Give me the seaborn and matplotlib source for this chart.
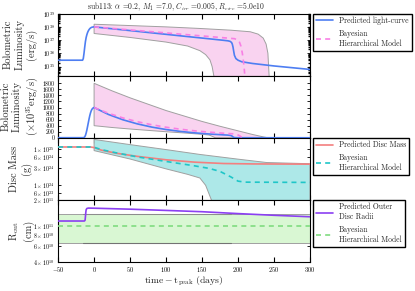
import numpy as np
import matplotlib
matplotlib.use("Agg")
import matplotlib.pyplot as plt
import seaborn as sns
from matplotlib.ticker import FixedLocator, FixedFormatter, NullLocator

# ---------------- data ----------------
# predicted light curve (units of 1e35 erg/s)
t_lc = [-50, -16, -15, -14, -13, -12, -11, -10, -9, -8, -7, -6, -5, -4, -3, -2, -1, 0,
        20, 40, 60, 80, 100, 120, 140, 160, 180, 186, 189, 191, 192, 193, 194, 195,
        197, 200, 205, 220, 250, 300]
lc_35 = [3, 3, 4, 10, 30, 80, 160, 260, 380, 500, 620, 730, 820, 890, 940, 970, 990, 1000,
         770, 595, 460, 354, 273, 210, 162, 125, 96, 88, 80, 66, 50, 30, 14, 7,
         4, 3, 2.3, 1.7, 1.1, 0.6]

# Bayesian hierarchical model median light curve (units of 1e35 erg/s)
t_bhm = [0, 20, 40, 60, 80, 100, 120, 140, 160, 180, 195, 199, 202, 204, 206, 208, 210]
bhm_35 = [1000, 810, 656, 532, 431, 349, 283, 229, 186, 150, 128, 105, 70, 35, 10, 1.5, 0.1]

# BHM band, log panel (log10 erg/s)
t_band1_up = [0, 50, 100, 147, 190, 217, 228, 235, 239, 241.5, 242.5, 243.5]
band1_up = [38.2, 38.1, 38.0, 37.88, 37.75, 37.63, 37.45, 37.15, 36.7, 36.0, 35.0, 34.0]
t_band1_lo = [0, 50, 100, 130, 147, 155, 161, 164, 166, 167.5]
band1_lo = [37.5, 37.2, 36.85, 36.55, 36.2, 35.9, 35.5, 35.0, 34.4, 34.0]

# BHM band, linear panel (1e35 erg/s)
t_band2_up = [0, 25, 50, 75, 100, 125, 150, 175, 200, 220, 235, 242]
band2_up = [1800, 1550, 1320, 1110, 900, 720, 540, 380, 230, 110, 30, 0]
t_band2_lo = [0, 25, 50, 75, 100, 125, 150, 160, 165, 168, 170]
band2_lo = [400, 340, 290, 245, 200, 160, 115, 90, 40, 5, 0]

# disc mass (g)
t_md = [-50, -5, 0, 10, 30, 60, 100, 140, 180, 220, 300]
md = [1.12e25, 1.12e25, 1.08e25, 9.2e24, 7.6e24, 6.2e24, 5.0e24, 4.3e24, 3.95e24, 3.85e24, 3.8e24]
t_md_bhm = [-50, -5, 0, 10, 30, 60, 100, 140, 160, 175, 190, 200, 210, 300]
md_bhm = [1.12e25, 1.12e25, 1.1e25, 9.5e24, 7.8e24, 6.0e24, 4.5e24, 3.4e24, 2.9e24, 2.4e24,
          1.7e24, 1.3e24, 1.22e24, 1.2e24]
t_md_up = [0, 50, 100, 147, 200, 240, 300]
md_up = [1.8e25, 1.3e25, 9.5e24, 7.0e24, 5.2e24, 4.2e24, 3.9e24]
t_md_lo = [0, 50, 100, 130, 147, 155, 163, 166, 300]
md_lo_log = [24.95, 24.72, 24.45, 24.3, 24.2, 24.0, 23.6, 23.4, 23.0]

# outer disc radius (cm)
t_r = [-50, -13.5, -12.5, -12, -11.5, -11, -10, -8, 0, 50, 100, 150, 200, 250, 300]
r_out = [1.155e11, 1.155e11, 1.18e11, 1.3e11, 1.45e11, 1.55e11, 1.6e11, 1.615e11, 1.61e11,
         1.57e11, 1.52e11, 1.47e11, 1.40e11, 1.34e11, 1.29e11]
t_r_bhm = [-50, 300]
r_bhm = [1.01e11, 1.01e11]
r_band_up = [1.38e11, 1.38e11]
r_band_lo = [6.55e10, 6.55e10]
t_r_band2 = [-15, 190]

xticks = [-50, 0, 50, 100, 150, 200, 250, 300]
lin_ticks = [0, 200, 400, 600, 800, 1000, 1200, 1400, 1600, 1800]
md_ticks = [1e25, 6e24, 3e24, 1e24, 6e23]
md_ticklabels = [r'$1\times10^{25}$', r'$6\times10^{24}$', r'$3\times10^{24}$',
                 r'$1\times10^{24}$', r'$6\times10^{23}$']
r_ticks = [2e11, 1e11, 8e10, 6e10, 4e10]
r_ticklabels = [r'$2\times10^{11}$', r'$1\times10^{11}$', r'$8\times10^{10}$',
                r'$6\times10^{10}$', r'$4\times10^{10}$']
lum_ticks = [1e35, 1e36, 1e37, 1e38, 1e39]
lum_ticklabels = [r'$10^{35}$', r'$10^{36}$', r'$10^{37}$', r'$10^{38}$', r'$10^{39}$']

title = (r'sub113: $\alpha$ =0.2, $M_1$ =7.0, $C_{irr}$ =0.005, $R_{circ}$ =5.0e10')

# ---------------- style ----------------
sns.set_theme(style="ticks")
plt.rcParams.update({
    'font.family': ['serif'],
    'font.serif': ['cmr10', 'DejaVu Serif'],
    'mathtext.fontset': 'cm',
    'axes.formatter.use_mathtext': True,
    'axes.unicode_minus': False,
    'axes.edgecolor': 'black',
    'axes.linewidth': 0.8,
    'xtick.direction': 'in',
    'ytick.direction': 'in',
    'xtick.top': True,
    'ytick.right': True,
    'xtick.major.size': 3.5,
    'ytick.major.size': 2.5,
    'xtick.minor.size': 1.5,
    'ytick.minor.size': 1.5,
    'xtick.major.width': 0.8,
    'ytick.major.width': 0.6,
    'xtick.labelsize': 4.5,
    'ytick.labelsize': 4.2,
    'xtick.major.pad': 2,
    'ytick.major.pad': 2.5,
    'xtick.color': 'black',
    'ytick.color': 'black',
})

c_blue = '#4e7ef2'
c_pink = '#f87fe4'
c_pinkband = '#f9d3f0'
c_red = '#f47f7f'
c_cyan = '#1fc6c8'
c_cyanband = '#ade8e8'
c_purple = '#8b3ff2'
c_green = '#80dc80'
c_greenband = '#d9f7d3'
c_edge = '#a0a0a0'

fig, axes = plt.subplots(4, 1, figsize=(4.15, 2.91), dpi=100, sharex=True)
fig.subplots_adjust(left=0.140, right=0.747, top=0.953, bottom=0.100, hspace=0)
ax1, ax2, ax3, ax4 = axes

leg_kw = dict(loc='upper left', bbox_to_anchor=(1.012, 1.0), borderaxespad=0,
              fontsize=5.5, frameon=True, fancybox=False, framealpha=1,
              edgecolor='black', handlelength=2.2, labelspacing=0.6, borderpad=0.4)

# ---- panel 1: log luminosity ----
poly_x = np.concatenate([t_band1_up, t_band1_lo[::-1]])
poly_y = 10 ** np.concatenate([band1_up, band1_lo[::-1]])
ax1.fill(poly_x, poly_y, facecolor=c_pinkband, edgecolor=c_edge, lw=0.7, zorder=1)
sns.lineplot(x=t_lc, y=np.array(lc_35) * 1e35, ax=ax1, color=c_blue, lw=1.2,
             label='Predicted light-curve', zorder=3)
sns.lineplot(x=t_bhm, y=np.array(bhm_35) * 1e35, ax=ax1, color=c_pink, lw=1.2,
             linestyle=(0, (3, 2.5)), label='Bayesian\nHierarchical Model', zorder=4)
ax1.set_yscale('log')
ax1.set_ylim(2e34, 1e39)
ax1.yaxis.set_major_locator(FixedLocator(lum_ticks))
ax1.yaxis.set_major_formatter(FixedFormatter(lum_ticklabels))
ax1.set_ylabel('Bolometric\nLuminosity\n(erg/s)', fontsize=7.5)
ax1.set_title(title, fontsize=5.5, pad=3, x=0.47)
ax1.legend(**leg_kw)

# ---- panel 2: linear luminosity ----
poly_x = np.concatenate([t_band2_up, t_band2_lo[::-1]])
poly_y = np.concatenate([band2_up, band2_lo[::-1]])
ax2.fill(poly_x, poly_y, facecolor=c_pinkband, edgecolor=c_edge, lw=0.7, zorder=1)
sns.lineplot(x=t_lc, y=lc_35, ax=ax2, color=c_blue, lw=1.2, zorder=3, legend=False)
sns.lineplot(x=t_bhm, y=bhm_35, ax=ax2, color=c_pink, lw=1.2,
             linestyle=(0, (3, 2.5)), zorder=4, legend=False)
ax2.set_ylim(0, 2050)
ax2.set_yticks(lin_ticks)
ax2.set_yticklabels([str(v) for v in lin_ticks])
ax2.set_ylabel('Bolometric\nLuminosity\n' + r'($\times 10^{35}$erg/s)', fontsize=7.5)

# ---- panel 3: disc mass ----
poly_x = np.concatenate([t_md_up, t_md_lo[::-1]])
poly_y = np.concatenate([md_up, (10 ** np.array(md_lo_log))[::-1]])
ax3.fill(poly_x, poly_y, facecolor=c_cyanband, edgecolor=c_edge, lw=0.7, zorder=1)
sns.lineplot(x=t_md, y=md, ax=ax3, color=c_red, lw=1.2, label='Predicted Disc Mass', zorder=3)
sns.lineplot(x=t_md_bhm, y=md_bhm, ax=ax3, color=c_cyan, lw=1.2,
             linestyle=(0, (3, 2.5)), label='Bayesian\nHierarchical Model', zorder=4)
ax3.set_yscale('log')
ax3.set_ylim(4e23, 2e25)
ax3.yaxis.set_major_locator(FixedLocator(md_ticks))
ax3.yaxis.set_major_formatter(FixedFormatter(md_ticklabels))
ax3.yaxis.set_minor_locator(NullLocator())
ax3.set_ylabel('Disc Mass\n(g)', fontsize=7.5)
ax3.legend(**leg_kw)

# ---- panel 4: outer radius ----
ax4.fill_between(t_r_bhm, r_band_lo, r_band_up, facecolor=c_greenband, edgecolor=c_edge,
                 lw=0.7, zorder=1)
ax4.plot(t_r_band2, r_band_lo, color='#606060', lw=0.8, alpha=0.7, zorder=1.5)
ax4.plot(t_r_band2, r_band_up, color='#808080', lw=0.8, alpha=0.6, zorder=1.5)
sns.lineplot(x=t_r, y=r_out, ax=ax4, color=c_purple, lw=1.2,
             label='Predicted Outer\nDisc Radii', zorder=3)
sns.lineplot(x=t_r_bhm, y=r_bhm, ax=ax4, color=c_green, lw=1.2,
             linestyle=(0, (3, 2.5)), label='Bayesian\nHierarchical Model', zorder=4)
ax4.set_yscale('log')
ax4.set_ylim(4e10, 2e11)
ax4.yaxis.set_major_locator(FixedLocator(r_ticks))
ax4.yaxis.set_major_formatter(FixedFormatter(r_ticklabels))
ax4.yaxis.set_minor_locator(NullLocator())
ax4.set_ylabel(r'$\mathrm{R_{out}}$' + '\n(cm)', fontsize=7.5)
ax4.legend(**leg_kw)

ax4.set_xlim(-50, 300)
ax4.set_xticks(xticks)
ax4.set_xlabel(r'$\mathrm{time - t_{peak}}$ (days)', fontsize=7, labelpad=1)

for ax in axes:
    ax.yaxis.label.set_va('center')
    ax.yaxis.set_label_coords(-0.15, 0.5)
    ax.tick_params(axis='x', which='both', top=True, bottom=True)
    ax.tick_params(axis='y', which='both', left=True, right=True)
    for s in ax.spines.values():
        s.set_visible(True)
        s.set_color('black')

fig.savefig('out.png', dpi=100)
